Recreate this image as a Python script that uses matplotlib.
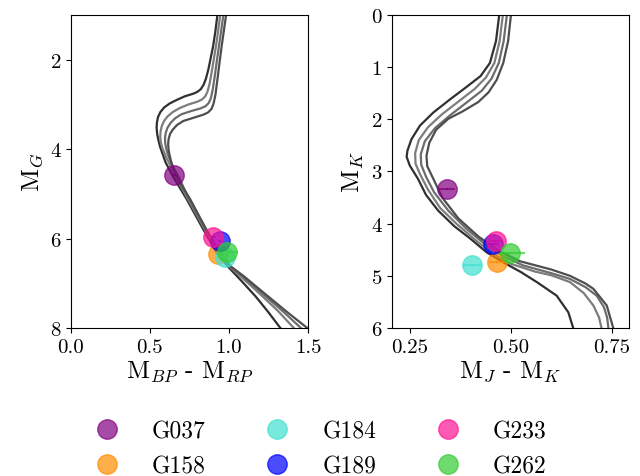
import matplotlib
matplotlib.use("Agg")
import matplotlib.pyplot as plt
from matplotlib.lines import Line2D

plt.rcParams['font.family'] = 'serif'
plt.rcParams['font.serif'] = ['cmr10', 'DejaVu Serif']
plt.rcParams['mathtext.fontset'] = 'cm'
plt.rcParams['axes.unicode_minus'] = False
plt.rcParams['axes.formatter.use_mathtext'] = True

# Stars
names = ['G037', 'G158', 'G184', 'G189', 'G233', 'G262']
colors = ['purple', 'darkorange', 'turquoise', 'blue', 'deeppink', 'limegreen']

bprp = [0.655, 0.933, 0.975, 0.944, 0.901, 0.99]
bprp_err = [0.01, 0.01, 0.01, 0.01, 0.02, 0.068]
mg = [4.58, 6.35, 6.42, 6.05, 5.96, 6.31]
mg_err = [0.02, 0.02, 0.02, 0.02, 0.02, 0.1]

jk = [0.341, 0.466, 0.403, 0.455, 0.463, 0.497]
jk_err = [0.02, 0.02, 0.022, 0.015, 0.017, 0.038]
mk = [3.34, 4.73, 4.80, 4.39, 4.33, 4.56]
mk_err = [0.02, 0.02, 0.02, 0.02, 0.02, 0.02]

# Isochrones (left panel: BP-RP vs M_G)
iso_g_x = [
    [0.927, 0.915, 0.90, 0.885, 0.87, 0.855, 0.84, 0.822, 0.80, 0.775, 0.72, 0.67, 0.625, 0.59,
     0.567, 0.552, 0.545, 0.543, 0.546, 0.553, 0.564, 0.58, 0.600, 0.645,
     0.733, 0.837, 0.92, 1.00, 1.08, 1.17, 1.25, 1.325],
    [0.945, 0.932, 0.918, 0.904, 0.89, 0.877, 0.864, 0.85, 0.83, 0.80, 0.745, 0.69, 0.645, 0.612,
     0.59, 0.576, 0.568, 0.566, 0.569, 0.577, 0.59, 0.603, 0.62, 0.66,
     0.74, 0.843, 0.925, 1.005, 1.085, 1.2, 1.31, 1.41],
    [0.965, 0.951, 0.937, 0.923, 0.91, 0.898, 0.886, 0.872, 0.852, 0.82, 0.76, 0.70, 0.66, 0.632,
     0.612, 0.601, 0.596, 0.597, 0.603, 0.612, 0.625, 0.636, 0.65, 0.68,
     0.745, 0.847, 0.928, 1.008, 1.088, 1.225, 1.345, 1.455],
    [0.982, 0.968, 0.954, 0.94, 0.927, 0.915, 0.903, 0.89, 0.868, 0.838, 0.775, 0.712, 0.672, 0.646,
     0.628, 0.619, 0.616, 0.618, 0.624, 0.632, 0.642, 0.655, 0.668, 0.69,
     0.752, 0.85, 0.93, 1.01, 1.09, 1.243, 1.37, 1.495],
]
iso_g_y = [
    [1.0, 1.35, 1.7, 1.96, 2.22, 2.42, 2.56, 2.66, 2.72, 2.76, 2.82, 2.9, 2.98, 3.07,
     3.17, 3.28, 3.4, 3.52, 3.65, 3.78, 3.94, 4.1, 4.3, 4.6,
     5.12, 5.79, 6.3, 6.65, 6.95, 7.3, 7.65, 8.0],
    [1.0, 1.35, 1.7, 2.0, 2.3, 2.55, 2.72, 2.82, 2.89, 2.94, 3.0, 3.08, 3.17, 3.27,
     3.37, 3.48, 3.6, 3.72, 3.84, 3.95, 4.07, 4.18, 4.3, 4.6,
     5.11, 5.77, 6.27, 6.63, 6.88, 7.25, 7.62, 8.0],
    [1.0, 1.35, 1.7, 2.04, 2.38, 2.66, 2.86, 2.97, 3.04, 3.09, 3.15, 3.22, 3.31, 3.41,
     3.52, 3.63, 3.74, 3.86, 3.98, 4.1, 4.22, 4.32, 4.42, 4.6,
     5.1, 5.76, 6.26, 6.62, 6.85, 7.27, 7.64, 8.0],
    [1.0, 1.35, 1.7, 2.08, 2.45, 2.78, 2.98, 3.1, 3.18, 3.23, 3.3, 3.37, 3.46, 3.56,
     3.66, 3.77, 3.88, 4.0, 4.12, 4.24, 4.36, 4.48, 4.58, 4.75,
     5.1, 5.75, 6.25, 6.62, 6.83, 7.28, 7.65, 8.0],
]

# Isochrones (right panel: J-K vs M_K)
iso_k_x = [
    [0.471, 0.463, 0.448, 0.425, 0.39, 0.349, 0.308, 0.275, 0.254, 0.244, 0.242, 0.25, 0.27, 0.29,
     0.32, 0.36, 0.40, 0.44, 0.481, 0.525, 0.564, 0.613, 0.642, 0.654],
    [0.480, 0.472, 0.459, 0.438, 0.41, 0.37, 0.33, 0.295, 0.272, 0.263, 0.264, 0.275, 0.295, 0.325,
     0.365, 0.41, 0.455, 0.50, 0.56, 0.60, 0.646, 0.68, 0.704, 0.718, 0.724],
    [0.490, 0.482, 0.47, 0.452, 0.428, 0.39, 0.35, 0.312, 0.287, 0.277, 0.278, 0.29, 0.31, 0.345,
     0.39, 0.44, 0.48, 0.53, 0.60, 0.646, 0.685, 0.712, 0.73, 0.738, 0.741],
    [0.500, 0.493, 0.481, 0.465, 0.445, 0.419, 0.38, 0.345, 0.315, 0.298, 0.291, 0.293, 0.308, 0.33,
     0.37, 0.42, 0.47, 0.522, 0.6, 0.646, 0.685, 0.704, 0.737, 0.753],
]
iso_k_y = [
    [0.0, 0.5, 0.92, 1.17, 1.38, 1.62, 1.87, 2.12, 2.38, 2.6, 2.72, 2.89, 3.14, 3.45,
     3.75, 4.05, 4.29, 4.55, 4.74, 4.93, 5.12, 5.38, 5.70, 6.0],
    [0.0, 0.5, 0.92, 1.2, 1.42, 1.66, 1.9, 2.15, 2.4, 2.65, 2.85, 3.05, 3.35, 3.7,
     4.0, 4.3, 4.58, 4.77, 4.92, 4.99, 5.12, 5.33, 5.57, 5.8, 6.0],
    [0.0, 0.5, 0.92, 1.22, 1.45, 1.68, 1.92, 2.17, 2.42, 2.67, 2.87, 3.1, 3.4, 3.75,
     4.1, 4.42, 4.62, 4.8, 4.95, 5.06, 5.22, 5.38, 5.6, 5.8, 6.0],
    [0.0, 0.5, 0.92, 1.24, 1.48, 1.67, 1.85, 1.99, 2.2, 2.45, 2.7, 2.9, 3.14, 3.5,
     3.9, 4.25, 4.52, 4.72, 4.88, 5.0, 5.15, 5.25, 5.57, 6.0],
]
iso_colors = ['#303030', '#7c7c7c', '#6c6c6c', '#4e4e4e']

fig = plt.figure(figsize=(6.4, 4.77), dpi=100)
ax1 = fig.add_axes([0.1105, 0.3103, 0.3708, 0.6562])
ax2 = fig.add_axes([0.612, 0.3103, 0.3708, 0.6562])

for xs, ys, c in zip(iso_g_x, iso_g_y, iso_colors):
    ax1.plot(xs, ys, color=c, lw=1.6, zorder=1, solid_joinstyle='round')
for xs, ys, c in zip(iso_k_x, iso_k_y, iso_colors):
    ax2.plot(xs, ys, color=c, lw=1.6, zorder=1, solid_joinstyle='round')

for i in range(len(names)):
    ax1.errorbar(bprp[i], mg[i], xerr=bprp_err[i], yerr=mg_err[i], fmt='o', color=colors[i],
                 ms=14, alpha=0.7, elinewidth=1.5, zorder=3)
    ax2.errorbar(jk[i], mk[i], xerr=jk_err[i], yerr=mk_err[i], fmt='o', color=colors[i],
                 ms=14, alpha=0.7, elinewidth=1.5, zorder=3)

ax1.set_xlim(0.0, 1.5)
ax1.set_ylim(8, 1)
ax1.set_xticks([0.0, 0.5, 1.0, 1.5])
ax1.set_xticklabels(['0.0', '0.5', '1.0', '1.5'])
ax1.set_yticks([2, 4, 6, 8])
ax1.set_yticklabels(['2', '4', '6', '8'])
ax1.set_xlabel('M$_{BP}$ - M$_{RP}$', fontsize=18, labelpad=2)
ax1.set_ylabel('M$_G$', fontsize=18, labelpad=4)

ax2.set_xlim(0.205, 0.792)
ax2.set_ylim(6, 0)
ax2.set_xticks([0.25, 0.50, 0.75])
ax2.set_xticklabels(['0.25', '0.50', '0.75'])
ax2.set_yticks([0, 1, 2, 3, 4, 5, 6])
ax2.set_yticklabels(['0', '1', '2', '3', '4', '5', '6'])
ax2.set_xlabel('M$_J$ - M$_K$', fontsize=18, labelpad=2)
ax2.set_ylabel('M$_K$', fontsize=18, labelpad=4)

for ax in (ax1, ax2):
    ax.tick_params(labelsize=15)

handles = [Line2D([], [], marker='o', ls='none', color=c, alpha=0.7, ms=14) for c in colors]
fig.legend(handles, names, loc='center', bbox_to_anchor=(0.492, 0.0575), ncol=3, frameon=False,
           fontsize=17, handlelength=2, handletextpad=0.9, columnspacing=2.05, labelspacing=0.55)

fig.savefig('out.png', dpi=100)
